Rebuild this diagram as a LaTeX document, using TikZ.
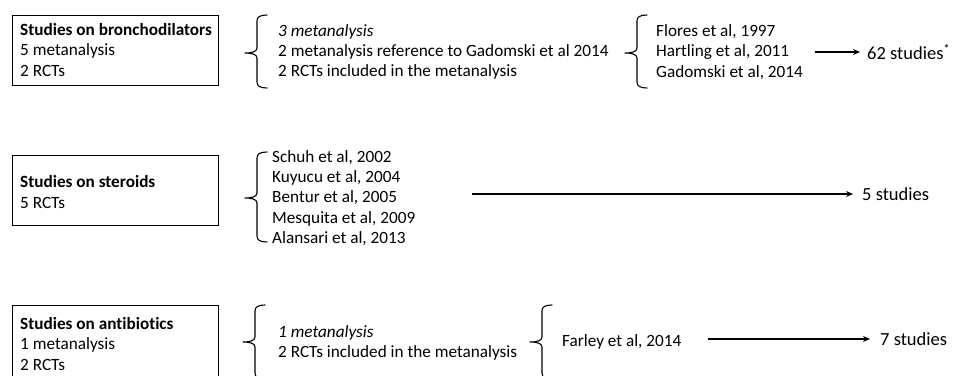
\documentclass[tikz,border=0pt]{standalone}
\usepackage{fontspec}
\setmainfont{Carlito}[Ligatures={NoCommon}]
\usetikzlibrary{arrows.meta}
\tikzset{
 txt/.style={font=\fontsize{17.2}{20.2}\selectfont, align=left, inner sep=0pt, anchor=west},
 res/.style={font=\fontsize{18.5}{20.2}\selectfont, inner sep=0pt, anchor=west},
 box/.style={draw, line width=1pt, minimum width=206pt, inner sep=0pt},
 conn/.style={line width=1.4pt, -{Stealth[length=7pt,width=6pt]}},
 brc/.style={line width=1.1pt, line cap=round, line join=round}
}
\newcommand{\myleftbrace}[4]{%
 \draw[brc] (#1+10,#2) .. controls (#1+3,#2) and (#1,#2+2) .. (#1,#2+6) -- (#1,#3-5) .. controls (#1,#3-1) and (#1-6,#3) .. (#1-12,#3) .. controls (#1-6,#3) and (#1,#3+1) .. (#1,#3+5) -- (#1,#4-6) .. controls (#1,#4-2) and (#1+3,#4) .. (#1+10,#4);
}
\begin{document}
\begin{tikzpicture}[x=1pt,y=-1pt]
\useasboundingbox (0,0) rectangle (964,375);
\clip (0,0) rectangle (964,375);
% boxes
\node[box, minimum height=70pt] (b1) at (115,50) {};
\node[box, minimum height=70pt] (b2) at (115,190) {};
\node[box, minimum height=80pt] (b3) at (115,345) {};
\node[txt] (b1t) at (20,50) {\textbf{Studies on bronchodilators}\\5 metanalysis\\2 RCTs};
\node[txt] (b2t) at (20,192) {\textbf{Studies on steroids}\\5 RCTs};
\node[txt] (b3t) at (20,344) {\textbf{Studies on antibiotics}\\1 metanalysis\\2 RCTs};
% braces
\myleftbrace{257}{15}{53}{88}
\myleftbrace{637}{15}{53}{88}
\myleftbrace{257}{152}{198}{242}
\myleftbrace{255}{305}{342}{379}
\myleftbrace{542}{305}{342}{379}
% texts
\node[txt] (t1a) at (278,52) {\textit{3 metanalysis}\\2 metanalysis reference to Gadomski et al 2014\\2 RCTs included in the metanalysis};
\node[txt] (t1b) at (656,52) {Flores et al, 1997\\Hartling et al, 2011\\Gadomski et al, 2014};
\node[txt] (t2a) at (272,198) {Schuh et al, 2002\\Kuyucu et al, 2004\\Bentur et al, 2005\\Mesquita et al, 2009\\Alansari et al, 2013};
\node[txt] (t3a) at (278,343) {\textit{1 metanalysis}\\2 RCTs included in the metanalysis};
\node[txt] (t3b) at (562,342) {Farley et al, 2014};
% results
\node[res] (r1) at (867,52) {62 studies\textsuperscript{*}};
\node[res] (r2) at (862,194) {5 studies};
\node[res] (r3) at (880,339) {7 studies};
% arrows
\coordinate (s1) at (815,52);
\coordinate (s2) at (472,194);
\coordinate (s3) at (708,339);
\draw[conn, shorten >=7pt] (s1) -- (r1.west);
\draw[conn, shorten >=9pt] (s2) -- (r2.west);
\draw[conn, shorten >=10pt] (s3) -- (r3.west);
\end{tikzpicture}
\end{document}
